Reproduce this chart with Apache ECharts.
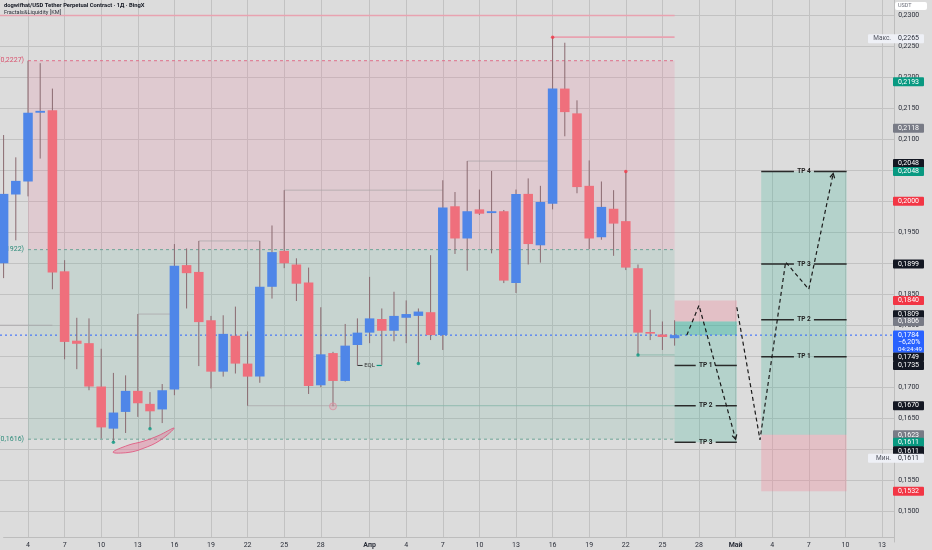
<!DOCTYPE html>
<html><head><meta charset="utf-8">
<script src="https://cdn.jsdelivr.net/npm/echarts@6/dist/echarts.min.js"></script>
<style>html,body{margin:0;padding:0;background:#dcdcdc}#c{width:932px;height:550px}</style>
</head><body><div id="c"></div><script>
// ---------- DATA ----------
const firstDay = [2025, 3, 2];       // first category (year, month, day)
const dayCount = 74;                 // Mar 2 .. May 14
const firstCandleDate = '03-02';
const xTickDates = ['03-04','03-07','03-10','03-13','03-16','03-19','03-22','03-25','03-28','04-01','04-04','04-07','04-10','04-13','04-16','04-19','04-22','04-25','04-28','05-01','05-04','05-07','05-10','05-13'];
const xTickTexts = ['4','7','10','13','16','19','22','25','28','Апр','4','7','10','13','16','19','22','25','28','Май','4','7','10','13'];
// daily candles [open, high, low, close]
const ohlc = [
[0.1900,0.2107,0.1876,0.2012],[0.2011,0.2071,0.1937,0.2033],[0.2032,0.2227,0.2008,0.2143],[0.2143,0.2223,0.2069,0.2146],
[0.2147,0.2182,0.1858,0.1885],[0.1887,0.1905,0.1745,0.1773],[0.1775,0.1812,0.1729,0.1770],[0.1771,0.1811,0.1695,0.1701],
[0.1701,0.1762,0.1617,0.1635],[0.1633,0.1723,0.1611,0.1659],[0.1660,0.1719,0.1626,0.1694],[0.1694,0.1818,0.1652,0.1674],
[0.1673,0.1692,0.1633,0.1661],[0.1664,0.1705,0.1642,0.1695],[0.1696,0.1931,0.1687,0.1896],[0.1897,0.1924,0.1827,0.1884],
[0.1886,0.1936,0.1734,0.1805],[0.1808,0.1815,0.1698,0.1725],[0.1725,0.1816,0.1717,0.1786],[0.1783,0.1830,0.1722,0.1738],
[0.1738,0.1790,0.1670,0.1717],[0.1717,0.1936,0.1707,0.1862],[0.1862,0.1961,0.1843,0.1918],[0.1920,0.2018,0.1892,0.1900],
[0.1898,0.1908,0.1839,0.1867],[0.1869,0.1893,0.1689,0.1702],[0.1703,0.1829,0.1700,0.1753],[0.1755,0.1757,0.1669,0.1710],
[0.1710,0.1802,0.1709,0.1767],[0.1768,0.1811,0.1735,0.1788],[0.1788,0.1878,0.1771,0.1811],[0.1810,0.1827,0.1736,0.1791],
[0.1791,0.1854,0.1774,0.1815],[0.1812,0.1840,0.1771,0.1818],[0.1815,0.1827,0.1738,0.1822],[0.1821,0.1913,0.1776,0.1784],
[0.1784,0.2034,0.1760,0.1990],[0.1992,0.2015,0.1915,0.1940],[0.1940,0.2065,0.1888,0.1984],[0.1987,0.2019,0.1978,0.1980],
[0.1981,0.2049,0.1916,0.1984],[0.1984,0.1986,0.1868,0.1872],[0.1868,0.2019,0.1852,0.2012],[0.2012,0.2037,0.1898,0.1931],
[0.1929,0.2025,0.1901,0.1999],[0.1996,0.2265,0.1987,0.2182],[0.2182,0.2256,0.2105,0.2144],[0.2142,0.2163,0.2013,0.2023],
[0.2025,0.2066,0.1923,0.1940],[0.1942,0.2032,0.1938,0.1991],[0.1988,0.2018,0.1912,0.1964],[0.1968,0.2048,0.1889,0.1893],
[0.1892,0.1898,0.1752,0.1788],[0.1789,0.1825,0.1776,0.1787],[0.1785,0.1806,0.1760,0.1781],[0.1779,0.1808,0.1767,0.1784]
];
const lastPrice = 0.1784;
const lastChange = '−6,20%';
const countdown = '04:24:49';
// zones [dayFrom, dayTo, priceTop, priceBottom]   (day = days since Mar 1)
const premiumZone = [[3, 56, 0.2227, 0.1922]];
const discountZone = [[3, 56, 0.1922, 0.1616]];
const zoneLevels = [0.2227, 0.1922, 0.1616];
// short projection box
const shortBox = {from: 56, to: 61.1, stop: 0.1840, entry: 0.1806, tps: [0.1735, 0.1670, 0.1611]};
// long projection box
const longBox = {from: 63.1, to: 70.1, stop: 0.1532, entry: 0.1623, tps: [0.1749, 0.1809, 0.1899, 0.2048]};
// projected paths [day, price]
const path1 = [[57.0, 0.1784], [58.0, 0.1832], [61.0, 0.1616]];
const path2 = [[61.1, 0.1829], [63.0, 0.1615], [65.1, 0.1902], [67.0, 0.1858], [69.0, 0.2045]];
// fractal level lines [dayFrom, dayTo, price]
const pinkLevels = [[0, 56, 0.2300], [46, 56, 0.2265]];
const grayLevels = [[17, 22, 0.1936], [24, 37, 0.2018], [39, 46, 0.2065], [21, 28, 0.1670], [12, 15, 0.1818], [0, 5, 0.1800]];
const greenLevels = [[28, 56, 0.1670], [53, 56, 0.1752]];
const eqlLevel = [[30, 32, 0.1735]];
// fractal markers [day, price]
const redDots = [[46, 0.2265], [52, 0.2048]];
const greenDots = [[10, 0.1611], [13, 0.1633], [35, 0.1738], [53, 0.1752]];
const ringDots = [[28, 0.1669]];
// liquidity sweep arc outline [day, price]
const sweepArc = [[9.97,0.15950],[11.2,0.15945],[12.43,0.16010],[13.82,0.16140],[14.97,0.16339],[13.66,0.16215],[12.43,0.16125],[11.2,0.16062]];
// right-axis price badges
const badgeValues = [0.2193, 0.2118, 0.2048, 0.2048, 0.2000, 0.1899, 0.1840, 0.1809, 0.1806, 0.1749, 0.1735, 0.1670, 0.1623, 0.1611, 0.1611, 0.1532];
const badgeKinds  = ['green','gray','black','green','red','black','red','black','gray','black','black','black','gray','green','black','red'];
const maxValue = 0.2265, minValue = 0.1611;

// ---------- STYLE / LAYOUT ----------
const FONT = 'Roboto, "Noto Sans", sans-serif';
const badgeColors = {green:'#089981', gray:'#787b86', black:'#131722', red:'#f23645'};
const badgeNudge = [0, 0, -8, 0, 0, 0, 0, -5, 0, 0, 0, 0, 0, 0, 8.5, 0];
const UP = '#4f86e8', DOWN = '#ef6f7c', WICK = '#8a6a70';
const DAY_MIN = 0.705, DAY_MAX = 74;   // visible day range of the plot

// ---------- BUILD ----------
const categories = [];
const base = Date.UTC(firstDay[0], firstDay[1]-1, firstDay[2]);
for (let i = 0; i < dayCount; i++) {
  const dt = new Date(base + i*86400000);
  categories.push(String(dt.getUTCMonth()+1).padStart(2,'0') + '-' + String(dt.getUTCDate()).padStart(2,'0'));
}
const catOffset = firstDay[2] - 1;   // day number of first category (days since Mar 1)
const tickMap = {};
xTickDates.forEach((s, i) => tickMap[s] = xTickTexts[i]);
const firstIdx = categories.indexOf(firstCandleDate) + catOffset;
const candleData = ohlc.map((r, i) => [firstIdx + i, r[0], r[3], r[2], r[1]]);

function rectSeries(rects, fill, z) {
  return {type:'custom', xAxisIndex:1, yAxisIndex:0, z, silent:true, dimensions:['a','b','c','d'], data:rects,
    renderItem(params, api) {
      const a = api.coord([api.value(0), api.value(2)]), b = api.coord([api.value(1), api.value(3)]);
      return {type:'rect', shape:{x:a[0], y:a[1], width:b[0]-a[0], height:b[1]-a[1]}, style:{fill}};
    }};
}
function segSeries(segs, style, z) {
  return {type:'custom', xAxisIndex:1, yAxisIndex:0, z, silent:true, dimensions:['a','b','p'], data:segs,
    renderItem(params, api) {
      const a = api.coord([api.value(0), api.value(2)]), b = api.coord([api.value(1), api.value(2)]);
      return {type:'line', shape:{x1:a[0], y1:a[1], x2:b[0], y2:b[1]}, style:Object.assign({}, style)};
    }};
}
function tpSeries(box, z) {
  const data = box.tps.map((p, i) => [box.from, box.to, p, i]);
  return {type:'custom', xAxisIndex:1, yAxisIndex:0, z, silent:true, dimensions:['a','b','p','i'], data,
    renderItem(params, api) {
      const a = api.coord([api.value(0), api.value(2)]), b = api.coord([api.value(1), api.value(2)]);
      const m = (a[0]+b[0])/2, st = {stroke:'#2a2a2a', lineWidth:1.5};
      return {type:'group', children:[
        {type:'line', shape:{x1:a[0], y1:a[1], x2:m-10, y2:a[1]}, style:st},
        {type:'line', shape:{x1:m+10, y1:a[1], x2:b[0], y2:a[1]}, style:st},
        {type:'text', x:m, y:a[1], style:{text:'TP ' + (api.value(3)+1), fill:'#222', font:'bold 6.5px ' + FONT, textAlign:'center', textVerticalAlign:'middle'}}
      ]};
    }};
}
function pathSeries(pts) {
  return {type:'line', xAxisIndex:1, yAxisIndex:0, z:6, silent:true, data:pts, showSymbol:false, symbol:'none',
    lineStyle:{color:'#1a1a1a', width:1.2, type:[4,3]}};
}
function arrowSeries(pts) {
  const n = pts.length;
  return {type:'custom', xAxisIndex:1, yAxisIndex:0, z:6, silent:true, dimensions:['a','b','c','d'],
    data:[[pts[n-2][0], pts[n-2][1], pts[n-1][0], pts[n-1][1]]],
    renderItem(params, api) {
      const a = api.coord([api.value(0), api.value(1)]), b = api.coord([api.value(2), api.value(3)]);
      const ang = Math.atan2(b[1]-a[1], b[0]-a[0]), L = 5, s = 0.5;
      const p1 = [b[0]-L*Math.cos(ang-s), b[1]-L*Math.sin(ang-s)], p2 = [b[0]-L*Math.cos(ang+s), b[1]-L*Math.sin(ang+s)];
      return {type:'polyline', shape:{points:[p1, b, p2]}, style:{stroke:'#1a1a1a', lineWidth:1.2, fill:null}};
    }};
}

const series = [
  rectSeries(premiumZone, 'rgba(236,130,160,0.2)', 1),
  rectSeries(discountZone, 'rgba(80,170,140,0.15)', 1),
  segSeries([[3,56,zoneLevels[0]]], {stroke:'#e0708a', lineWidth:1, lineDash:[3,3]}, 2),
  segSeries([[3,56,zoneLevels[1]],[3,56,zoneLevels[2]]], {stroke:'#6fa598', lineWidth:1, lineDash:[3,3]}, 2),
  // zone labels
  {type:'custom', xAxisIndex:1, yAxisIndex:0, z:2, silent:true, dimensions:['d','p','i'],
    data: zoneLevels.map((p, i) => [3, p, i]),
    renderItem(params, api) {
      const a = api.coord([api.value(0), api.value(1)]);
      const p = api.value(1), i = api.value(2);
      return {type:'text', x:a[0]-4, y:a[1], style:{text:'(' + p.toFixed(4).replace('.', ',') + ')', fill: i === 0 ? '#d9506c' : '#2a8a78',
        font:'7px ' + FONT, textAlign:'right', textVerticalAlign:'middle'}};
    }},
  segSeries(pinkLevels, {stroke:'#e8a2b0', lineWidth:1.6}, 2),
  segSeries(grayLevels, {stroke:'#a8a4a6', lineWidth:0.7}, 2),
  segSeries(greenLevels, {stroke:'#8ab8aa', lineWidth:0.9}, 2),
  // EQL
  {type:'custom', xAxisIndex:1, yAxisIndex:0, z:4, silent:true, dimensions:['a','b','p'], data:eqlLevel,
    renderItem(params, api) {
      const a = api.coord([api.value(0), api.value(2)]), b = api.coord([api.value(1), api.value(2)]);
      const m = (a[0]+b[0])/2, st = {stroke:'#333', lineWidth:1};
      return {type:'group', children:[
        {type:'line', shape:{x1:a[0], y1:a[1], x2:m-7, y2:a[1]}, style:st},
        {type:'line', shape:{x1:m+7, y1:a[1], x2:b[0], y2:a[1]}, style:{stroke:'#089981', lineWidth:1.2}},
        {type:'text', x:m, y:a[1], style:{text:'EQL', fill:'#333', font:'6px ' + FONT, textAlign:'center', textVerticalAlign:'middle'}}
      ]};
    }},
  // current price dotted line
  segSeries([[DAY_MIN, DAY_MAX, lastPrice]], {stroke:'#2962ff', lineWidth:1, lineDash:[2,3]}, 3),
  // candles
  {type:'custom', xAxisIndex:1, yAxisIndex:0, z:5, silent:true, dimensions:['d','o','c','l','h'], data:candleData,
    renderItem(params, api) {
      const d = api.value(0), o = api.value(1), c = api.value(2), l = api.value(3), h = api.value(4);
      const pO = api.coord([d, o]), pC = api.coord([d, c]), pL = api.coord([d, l]), pH = api.coord([d, h]);
      const w = api.size([1, 0])[0] * 0.78;
      const top = Math.min(pO[1], pC[1]), bot = Math.max(pO[1], pC[1]);
      return {type:'group', children:[
        {type:'line', shape:{x1:pH[0], y1:pH[1], x2:pL[0], y2:pL[1]}, style:{stroke:WICK, lineWidth:1}},
        {type:'rect', shape:{x:pO[0]-w/2, y:top, width:w, height:Math.max(bot-top, 1.6)}, style:{fill: c >= o ? UP : DOWN}}
      ]};
    }},
  // sweep arc
  {type:'custom', xAxisIndex:1, yAxisIndex:0, z:4, silent:true, dimensions:['k'], data:[[0]],
    renderItem(params, api) {
      const pts = sweepArc.map(p => api.coord(p));
      return {type:'polygon', shape:{points:pts, smooth:0.4}, style:{fill:'rgba(232,100,140,0.35)', stroke:'#e0507a', lineWidth:0.8}};
    }},
  // markers
  {type:'scatter', xAxisIndex:1, yAxisIndex:0, z:6, silent:true, data:redDots, symbolSize:3.5, itemStyle:{color:'#f23645'}},
  {type:'scatter', xAxisIndex:1, yAxisIndex:0, z:6, silent:true, data:greenDots, symbolSize:3.5, itemStyle:{color:'#089981'}},
  {type:'scatter', xAxisIndex:1, yAxisIndex:0, z:6, silent:true, data:ringDots, symbolSize:7, itemStyle:{color:'rgba(240,140,160,0.35)', borderColor:'#d890a0', borderWidth:1}},
  // short box
  rectSeries([[shortBox.from, shortBox.to, shortBox.stop, shortBox.entry]], 'rgba(245,130,150,0.3)', 2),
  rectSeries([[shortBox.from, shortBox.to, shortBox.entry, shortBox.tps[2]]], 'rgba(60,180,150,0.25)', 2),
  rectSeries([[shortBox.from, shortBox.to, shortBox.entry, lastPrice]], 'rgba(40,180,160,0.3)', 2),
  tpSeries(shortBox, 4),
  // long box
  rectSeries([[longBox.from, longBox.to, longBox.tps[3], longBox.entry]], 'rgba(60,180,150,0.25)', 2),
  rectSeries([[longBox.from, longBox.to, longBox.entry, longBox.stop]], 'rgba(245,130,150,0.3)', 2),
  tpSeries(longBox, 4),
  // projected paths
  pathSeries(path1), pathSeries(path2), arrowSeries(path1), arrowSeries(path2)
];

const chart = echarts.init(document.getElementById('c'));
chart.setOption({
  animation:false,
  backgroundColor:'#dcdcdc',
  textStyle:{fontFamily:FONT},
  grid:[
    {left:0, right:37.8, top:-0.5, bottom:8},
    {left:3.6, right:37.8, top:0, bottom:13}
  ],
  xAxis:[
    {type:'category', gridIndex:1, data:categories, boundaryGap:false,
      axisLine:{show:true, lineStyle:{color:'#bdbdbd'}}, axisTick:{show:false},
      axisLabel:{interval:(i, v) => tickMap[v] !== undefined, margin:5, fontSize:7, color:'#2a2e39', fontFamily:FONT,
        formatter:v => { const t = tickMap[v] || ''; return (t === 'Апр' || t === 'Май') ? '{b|' + t + '}' : t; },
        rich:{b:{fontWeight:'bold', fontSize:7, color:'#2a2e39', fontFamily:FONT}}},
      splitLine:{show:true, interval:(i, v) => tickMap[v] !== undefined, lineStyle:{color:'#c2c2c2', width:1}}},
    {type:'value', gridIndex:0, min:DAY_MIN, max:DAY_MAX, show:false}
  ],
  yAxis:[
    {type:'value', gridIndex:0, position:'right', min:0.145, max:0.2325, interval:0.005,
      axisLine:{show:true, lineStyle:{color:'#bdbdbd'}}, axisTick:{show:false},
      axisLabel:{showMinLabel:false, showMaxLabel:false, margin:4, fontSize:7, color:'#2a2e39', fontFamily:FONT,
        formatter:v => v.toFixed(4).replace('.', ',')},
      splitLine:{show:true, showMinLine:false, showMaxLine:false, lineStyle:{color:'#c2c2c2', width:1}}},
    {type:'value', gridIndex:1, show:false, min:0, max:1}
  ],
  series
});

// ---------- right-axis badges (positions from the axis scale) ----------
const yPix = v => chart.convertToPixel({yAxisIndex:0}, v);
const BX = 893, BW = 31, BH = 9;
const g = [];
badgeValues.forEach((v, i) => {
  const y = yPix(v) + badgeNudge[i];
  g.push({type:'rect', z:100, shape:{x:BX, y:y-BH/2, width:BW, height:BH, r:1}, style:{fill:badgeColors[badgeKinds[i]]}});
  g.push({type:'text', z:101, x:BX+5, y:y, style:{text:v.toFixed(4).replace('.', ','), fill:'#fff', font:'7px ' + FONT, textVerticalAlign:'middle'}});
});
// current price box
(function(){
  const y = yPix(lastPrice);
  g.push({type:'rect', z:100, shape:{x:BX, y:y-4.5, width:BW, height:22, r:1}, style:{fill:'#2962ff'}});
  [lastPrice.toFixed(4).replace('.', ','), lastChange, countdown].forEach((t, k) => {
    g.push({type:'text', z:101, x:BX+5, y:y + k*7, style:{text:t, fill:'#fff', font:(k === 2 ? '6.2px ' : '7px ') + FONT, textVerticalAlign:'middle'}});
  });
})();
// max / min labels
[[maxValue, 'Макс.', 1.5], [minValue, 'Мин.', 16]].forEach(([v, t, nudge]) => {
  const y = yPix(v) + nudge;
  g.push({type:'rect', z:100, shape:{x:868, y:y-BH/2, width:56, height:BH, r:1}, style:{fill:'#eef0f6'}});
  g.push({type:'text', z:101, x:891, y:y, style:{text:t, fill:'#50535e', font:'6.5px ' + FONT, textAlign:'right', textVerticalAlign:'middle'}});
  g.push({type:'text', z:101, x:BX+5, y:y, style:{text:v.toFixed(4).replace('.', ','), fill:'#2a2e39', font:'7px ' + FONT, textVerticalAlign:'middle'}});
});
// currency label and title
g.push({type:'rect', z:100, shape:{x:895, y:2, width:32, height:8, r:2}, style:{fill:'#ffffff'}});
g.push({type:'text', z:101, x:898, y:6, style:{text:'USDT', fill:'#6a6d78', font:'5.5px ' + FONT, textVerticalAlign:'middle'}});
g.push({type:'text', z:101, x:4, y:5.5, style:{text:'dogwifhat/USD Tether Perpetual Contract · 1Д · BingX', fill:'#131722', font:'bold 5.8px ' + FONT, textVerticalAlign:'middle'}});
g.push({type:'text', z:101, x:4, y:12.5, style:{text:'Fractals&Liquidity [KM]', fill:'#2a2e39', font:'5.6px ' + FONT, textVerticalAlign:'middle'}});
chart.setOption({graphic:{elements:g}});
</script></body></html>
